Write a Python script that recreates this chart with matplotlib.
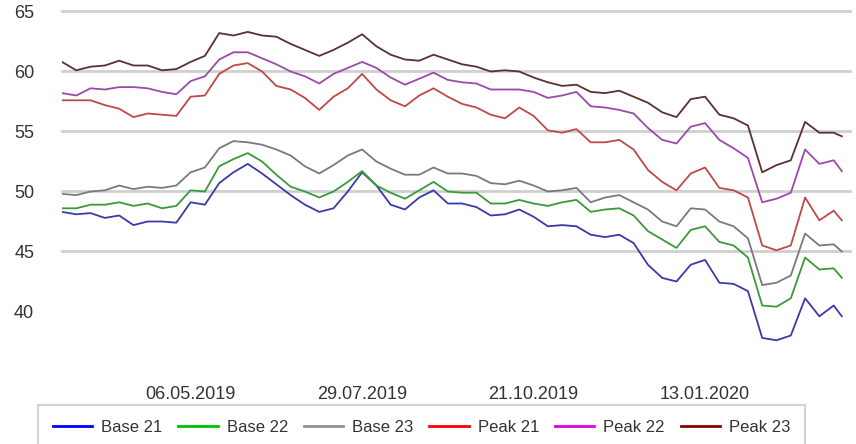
import pandas as pd
import matplotlib
matplotlib.use("Agg")
import matplotlib.pyplot as plt
import matplotlib.dates as mdates
from matplotlib.lines import Line2D

plt.rcParams["font.family"] = ["Liberation Sans", "DejaVu Sans"]

# weekly readings, last point is the Friday 20.03.2020
dates = list(pd.date_range("2019-03-04", periods=55, freq="7D")) + [pd.Timestamp("2020-03-20")]

base_21 = [48.3, 48.1, 48.2, 47.8, 48.0, 47.2, 47.5, 47.5, 47.4, 49.1, 48.9, 50.7, 51.6, 52.3,
           51.5, 50.6, 49.7, 48.9, 48.3, 48.6, 50.0, 51.6, 50.5, 48.9, 48.5, 49.5, 50.1, 49.0,
           49.0, 48.7, 48.0, 48.1, 48.5, 47.9, 47.1, 47.2, 47.1, 46.4, 46.2, 46.4, 45.7, 43.9,
           42.8, 42.5, 43.9, 44.3, 42.4, 42.3, 41.7, 37.8, 37.6, 38.0, 41.1, 39.6, 40.5, 39.6]
base_22 = [48.6, 48.6, 48.9, 48.9, 49.1, 48.8, 49.0, 48.6, 48.8, 50.1, 50.0, 52.1, 52.7, 53.2,
           52.5, 51.4, 50.4, 50.0, 49.5, 50.0, 50.8, 51.7, 50.5, 49.9, 49.4, 50.1, 50.8, 50.0,
           49.9, 49.9, 49.0, 49.0, 49.3, 49.0, 48.8, 49.1, 49.3, 48.3, 48.5, 48.6, 48.0, 46.7,
           46.0, 45.3, 46.8, 47.1, 45.8, 45.5, 44.5, 40.5, 40.4, 41.1, 44.5, 43.5, 43.6, 42.8]
base_23 = [49.8, 49.7, 50.0, 50.1, 50.5, 50.2, 50.4, 50.3, 50.5, 51.6, 52.0, 53.6, 54.2, 54.1,
           53.9, 53.5, 53.0, 52.1, 51.5, 52.2, 53.0, 53.5, 52.5, 51.9, 51.4, 51.4, 52.0, 51.5,
           51.5, 51.3, 50.7, 50.6, 50.9, 50.5, 50.0, 50.1, 50.3, 49.1, 49.5, 49.7, 49.1, 48.5,
           47.5, 47.1, 48.6, 48.5, 47.5, 47.1, 46.1, 42.2, 42.4, 43.0, 46.5, 45.5, 45.6, 45.0]
peak_21 = [57.6, 57.6, 57.6, 57.2, 56.9, 56.2, 56.5, 56.4, 56.3, 57.9, 58.0, 59.8, 60.5, 60.7,
           60.0, 58.8, 58.5, 57.8, 56.8, 57.9, 58.6, 59.8, 58.5, 57.6, 57.1, 58.0, 58.6, 57.9,
           57.3, 57.0, 56.4, 56.1, 57.0, 56.3, 55.1, 54.9, 55.2, 54.1, 54.1, 54.3, 53.5, 51.8,
           50.8, 50.1, 51.5, 52.0, 50.3, 50.1, 49.5, 45.5, 45.1, 45.5, 49.5, 47.6, 48.4, 47.6]
peak_22 = [58.2, 58.0, 58.6, 58.5, 58.7, 58.7, 58.6, 58.3, 58.1, 59.2, 59.6, 61.0, 61.6, 61.6,
           61.1, 60.6, 60.0, 59.6, 59.0, 59.8, 60.3, 60.8, 60.3, 59.5, 58.9, 59.4, 59.9, 59.3,
           59.1, 59.0, 58.5, 58.5, 58.5, 58.3, 57.8, 58.0, 58.3, 57.1, 57.0, 56.8, 56.5, 55.3,
           54.3, 54.0, 55.4, 55.7, 54.3, 53.6, 52.8, 49.1, 49.4, 49.9, 53.5, 52.3, 52.6, 51.7]
peak_23 = [60.8, 60.1, 60.4, 60.5, 60.9, 60.5, 60.5, 60.1, 60.2, 60.8, 61.3, 63.2, 63.0, 63.3,
           63.0, 62.9, 62.3, 61.8, 61.3, 61.8, 62.4, 63.1, 62.1, 61.4, 61.0, 60.9, 61.4, 61.0,
           60.6, 60.4, 60.0, 60.1, 60.0, 59.5, 59.1, 58.8, 58.9, 58.3, 58.2, 58.4, 57.9, 57.4,
           56.6, 56.2, 57.7, 57.9, 56.4, 56.1, 55.5, 51.6, 52.2, 52.6, 55.8, 54.9, 54.9, 54.6]

labels = ["Base 21", "Base 22", "Base 23", "Peak 21", "Peak 22", "Peak 23"]
tick_dates = ["2019-05-06", "2019-07-29", "2019-10-21", "2020-01-13"]
y_ticks = [40, 45, 50, 55, 60, 65]
grid_levels = [45, 50, 55, 60, 65]

series = [base_21, base_22, base_23, peak_21, peak_22, peak_23]
# lines in the chart look darker than the legend swatches
line_colors = ["#3a3aa8", "#3a9a3a", "#7a7a7a", "#c04848", "#9a4aa8", "#5a3030"]
legend_colors = ["#0000ff", "#00c000", "#909090", "#ff0000", "#dd00dd", "#8b0000"]
txt = "#333333"

fig = plt.figure(figsize=(8.56, 4.44), dpi=100)
ax = fig.add_axes([62 / 856, 1 - 359.5 / 444, 788 / 856, 348 / 444])

for lv in grid_levels:
    ax.axhline(lv, color="#cfcfcf", lw=2, zorder=1, clip_on=False)

for vals, col in zip(series, line_colors):
    ax.plot(dates, vals, color=col, lw=1.3, zorder=3)

ax.set_ylim(36, 65)
ax.set_xlim(pd.Timestamp("2019-03-04"), pd.Timestamp("2020-03-24"))
ax.set_yticks(y_ticks)
ax.set_xticks(pd.to_datetime(tick_dates))
ax.xaxis.set_major_formatter(mdates.DateFormatter("%d.%m.%Y"))
ax.tick_params(length=0, labelsize=13, labelcolor=txt)
ax.tick_params(axis="y", pad=20)
ax.tick_params(axis="x", pad=19)
for s in ax.spines.values():
    s.set_visible(False)

handles = [Line2D([], [], color=c, lw=2) for c in legend_colors]
leg = fig.legend(handles, labels, ncol=6, loc="upper left",
                 bbox_to_anchor=(38 / 856, 1 - 405 / 444), borderaxespad=0,
                 fontsize=12, frameon=True, fancybox=False, edgecolor="#c8c8c8",
                 handlelength=2.35, handletextpad=0.55, columnspacing=0.95,
                 borderpad=0.9, labelcolor=txt)
leg.get_frame().set_linewidth(1.5)

fig.savefig("out.png", dpi=100)
